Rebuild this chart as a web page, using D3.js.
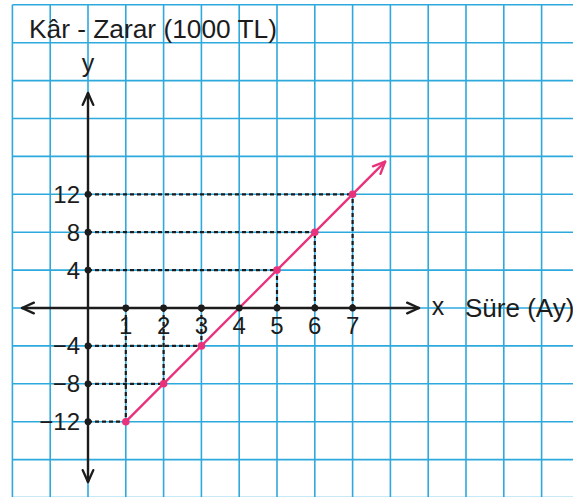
<!DOCTYPE html>
<html>
<head>
<meta charset="utf-8">
<script src="https://cdn.jsdelivr.net/npm/d3@7"></script>
<style>
  body { margin: 0; background: #fff; }
  svg { display: block; font-family: "Liberation Sans", Arial, sans-serif; }
</style>
</head>
<body>
<script>
// chart data
const xTicks = [1, 2, 3, 4, 5, 6, 7];
const yTicks = [12, 8, 4, -4, -8, -12];
const months = [1, 2, 3, 4, 5, 6, 7];
const profit = [-12, -8, -4, 0, 4, 8, 12];
const lineEnd = { x: 7.86, y: 15.44 };   // where the arrow head of the line sits

const title = "Kâr - Zarar (1000 TL)";
const xName = "Süre (Ay)";

const width = 573, height = 497;

const svg = d3.select("body").append("svg")
    .attr("width", width)
    .attr("height", height);

// one grid square = 1 month horizontally, 4 units vertically
const x = d3.scaleLinear().domain([0, 1]).range([88, 125.8]);
const y = d3.scaleLinear().domain([0, 4]).range([308, 270.1]);

const blue = "#2ea9de";
const pink = "#e8327c";
const ink = "#1c1c1c";

// grid
const gridX = d3.range(-2, 13);
const gridY = d3.range(-20, 36, 4);
svg.append("g").selectAll("line")
    .data(gridX)
    .enter().append("line")
    .attr("x1", d => x(d)).attr("x2", d => x(d))
    .attr("y1", y(32)).attr("y2", height)
    .attr("stroke", blue).attr("stroke-width", 1.6);
svg.append("g").selectAll("line")
    .data(gridY.filter(d => y(d) >= 4))
    .enter().append("line")
    .attr("x1", x(-2)).attr("x2", width)
    .attr("y1", d => y(d)).attr("y2", d => y(d))
    .attr("stroke", blue).attr("stroke-width", 1.6);

// dashed guide lines
const pts = months.map((m, i) => ({ x: m, y: profit[i] })).filter(d => d.y !== 0);
const dash = svg.append("g")
    .attr("stroke", ink).attr("stroke-width", 2.2).attr("stroke-dasharray", "4,3");
dash.selectAll(".h").data(pts).enter().append("line")
    .attr("x1", x(0)).attr("x2", d => x(d.x))
    .attr("y1", d => y(d.y)).attr("y2", d => y(d.y));
dash.selectAll(".v").data(pts).enter().append("line")
    .attr("x1", d => x(d.x)).attr("x2", d => x(d.x))
    .attr("y1", y(0)).attr("y2", d => y(d.y));

// axes with open arrow heads
function arrowLine(x1, y1, x2, y2, colour, w) {
    const g = svg.append("g").attr("stroke", colour).attr("stroke-width", w)
        .attr("fill", "none").attr("stroke-linecap", "round").attr("stroke-linejoin", "round");
    g.append("line").attr("x1", x1).attr("y1", y1).attr("x2", x2).attr("y2", y2);
    const a = Math.atan2(y2 - y1, x2 - x1), len = 13, spread = 0.42;
    g.append("path").attr("d", d3.line()([
        [x2 - len * Math.cos(a - spread), y2 - len * Math.sin(a - spread)],
        [x2, y2],
        [x2 - len * Math.cos(a + spread), y2 - len * Math.sin(a + spread)]
    ]));
    return g;
}
// x axis both ways
arrowLine(x(0), y(0), 22, y(0), ink, 2.4);
arrowLine(x(0), y(0), 419, y(0), ink, 2.4);
// y axis both ways
arrowLine(x(0), y(0), x(0), 93, ink, 2.4);
arrowLine(x(0), y(0), x(0), 482, ink, 2.4);

// the profit line
arrowLine(x(months[0]), y(profit[0]), x(lineEnd.x), y(lineEnd.y), pink, 2.4);

// axis dots
svg.append("g").selectAll("circle")
    .data(xTicks).enter().append("circle")
    .attr("cx", d => x(d)).attr("cy", y(0)).attr("r", 3.4).attr("fill", ink);
svg.append("g").selectAll("circle")
    .data(yTicks).enter().append("circle")
    .attr("cx", x(0)).attr("cy", d => y(d)).attr("r", 3.4).attr("fill", ink);

// points on line
svg.append("g").selectAll("circle")
    .data(pts).enter().append("circle")
    .attr("cx", d => x(d.x)).attr("cy", d => y(d.y)).attr("r", 3.8).attr("fill", pink);

// tick labels
svg.append("g").selectAll("text")
    .data(xTicks).enter().append("text")
    .attr("x", d => x(d)).attr("y", y(0) + 26)
    .attr("text-anchor", "middle")
    .attr("font-size", 24).attr("fill", ink)
    .text(d => d);
svg.append("g").selectAll("text")
    .data(yTicks).enter().append("text")
    .attr("x", x(0) - 8).attr("y", d => y(d) + 8.5)
    .attr("text-anchor", "end")
    .attr("font-size", 24).attr("fill", ink)
    .text(d => d < 0 ? "\u2212" + Math.abs(d) : d);

// titles
svg.append("text").attr("x", 29).attr("y", 38)
    .attr("font-size", 26.3).attr("fill", ink).text(title);
svg.append("text").attr("x", x(0)).attr("y", 72).attr("text-anchor", "middle")
    .attr("font-size", 25).attr("fill", ink).text("y");
svg.append("text").attr("x", 438).attr("y", y(0) + 7).attr("text-anchor", "middle")
    .attr("font-size", 25).attr("fill", ink).text("x");
svg.append("text").attr("x", 465).attr("y", y(0) + 9)
    .attr("font-size", 26).attr("fill", ink).text(xName);
</script>
</body>
</html>
